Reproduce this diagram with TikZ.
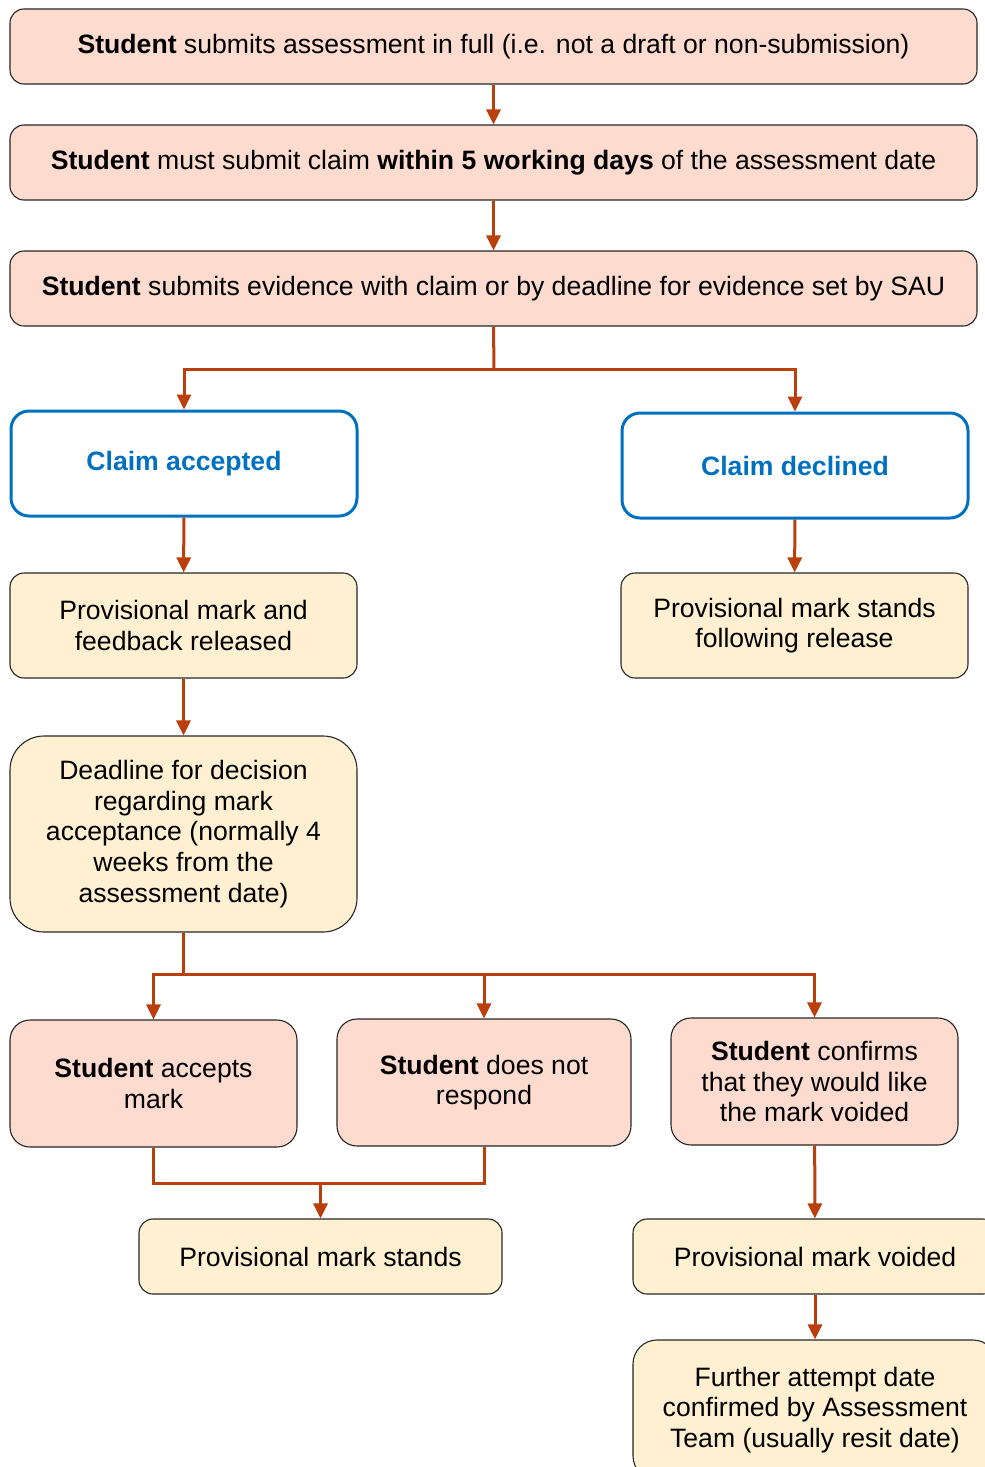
\documentclass[tikz,border=0pt]{standalone}
\usepackage{fontspec}
\setmainfont{Liberation Sans}
\usetikzlibrary{arrows.meta}
\definecolor{peach}{HTML}{FDDBCE}
\definecolor{cream}{HTML}{FFF0D1}
\definecolor{arrowc}{HTML}{BA3F0A}
\definecolor{blueb}{HTML}{0070C0}
\tikzset{
  base/.style={draw=black!85, line width=1.1pt, rounded corners=14pt, inner sep=2pt, align=center, font=\fontsize{26.6}{30.6}\selectfont},
  pbox/.style={base, fill=peach},
  ybox/.style={base, fill=cream},
  bbox/.style={draw=blueb, line width=3pt, rounded corners=18pt, fill=white, text=blueb, font=\fontsize{26.6}{30.6}\selectfont\bfseries},
  line/.style={draw=arrowc, line width=3pt},
  arr/.style={line, -{Triangle[width=14pt,length=15pt]}},
}
\begin{document}
\begin{tikzpicture}[x=1pt,y=-1pt]
\useasboundingbox (0,0) rectangle (985,1467);
\clip (0,0) rectangle (985,1467);
\node[pbox, minimum width=967pt, minimum height=75pt] (b1) at (493.5,46.5) {\textbf{Student} submits assessment in full (i.e. not a draft or non-submission)};
\node[pbox, minimum width=967pt, minimum height=75pt] (b2) at (493.5,162.5) {\textbf{Student} must submit claim \textbf{within 5 working days} of the assessment date};
\node[pbox, minimum width=967pt, minimum height=75pt] (b3) at (493.5,288.5) {\textbf{Student} submits evidence with claim or by deadline for evidence set by SAU};
\node[bbox, minimum width=346pt, minimum height=105pt] (acc) at (184,463.5) {Claim accepted};
\node[bbox, minimum width=346pt, minimum height=105pt] (dec) at (795,465.5) {Claim declined};
\node[ybox, minimum width=347pt, minimum height=105pt] (pf) at (183.5,625.5) {Provisional mark and\\feedback released};
\node[ybox, minimum width=347pt, minimum height=105pt] (pr) at (794.5,625.5) {Provisional mark stands\\following release};
\node[ybox, rounded corners=34pt, minimum width=347pt, minimum height=196pt] (dl) at (183.5,834) {Deadline for decision\\regarding mark\\acceptance (normally 4\\weeks from the\\assessment date)};
\node[pbox, rounded corners=20pt, minimum width=287pt, minimum height=127pt] (sa) at (153.5,1083.5) {\textbf{Student} accepts\\mark};
\node[pbox, rounded corners=20pt, minimum width=294pt, minimum height=127pt] (snr) at (484,1082.5) {\textbf{Student} does not\\respond};
\node[pbox, rounded corners=20pt, minimum width=287pt, minimum height=127pt] (sc) at (814.5,1081.5) {\textbf{Student} confirms\\that they would like\\the mark voided};
\node[ybox, minimum width=363pt, minimum height=75pt] (pms) at (320.5,1256.5) {Provisional mark stands};
\node[ybox, minimum width=364pt, minimum height=75pt] (pmv) at (815,1256.5) {Provisional mark voided};
\node[ybox, rounded corners=24pt, minimum width=364pt, minimum height=140pt] (fa) at (815,1410) {Further attempt date\\confirmed by Assessment\\Team (usually resit date)};
\coordinate (j1) at (494,369);
\coordinate (j2) at (183.5,974);
\coordinate (j3) at (320.5,1183);
\draw[arr] (b1) -- (b2);
\draw[arr] (b2) -- (b3);
\draw[line] (b3.south) -- (j1);
\draw[arr] (j1) -| (acc.north);
\draw[arr] (j1) -| (dec.north);
\draw[arr] (acc) -- (pf);
\draw[arr] (dec) -- (pr);
\draw[arr] (pf) -- (dl);
\draw[line] (dl.south) -- (j2);
\draw[arr] (j2) -| (sa.north);
\draw[arr] (j2) -| (snr.north);
\draw[arr] (j2) -| (sc.north);
\draw[line] (sa.south) |- (j3);
\draw[line] (snr.south) |- (j3);
\draw[arr] (j3) -- (pms.north);
\draw[arr] (sc) -- (pmv);
\draw[arr] (pmv) -- (fa);
\end{tikzpicture}
\end{document}
